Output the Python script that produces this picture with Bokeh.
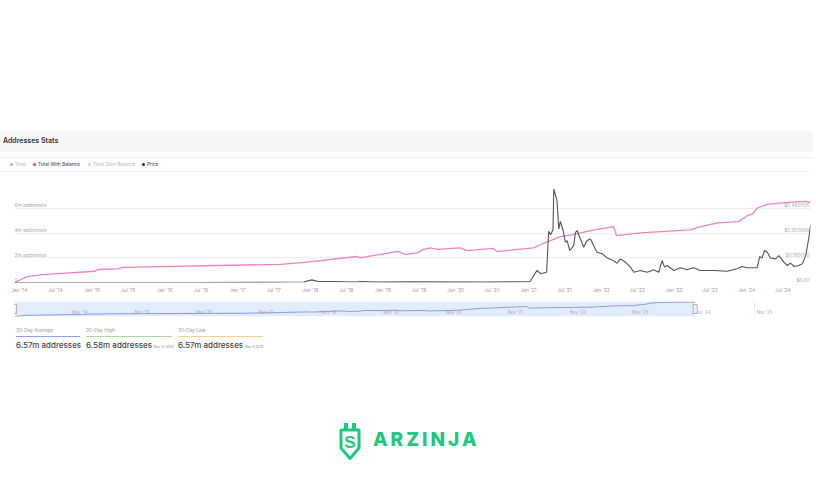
import pandas as pd
from bokeh.plotting import figure
from bokeh.models import Range1d, FixedTicker, MonthsTicker, DatetimeTickFormatter, Div
from bokeh.layouts import column
from bokeh.core.properties import value
from bokeh.embed import file_html
from bokeh.resources import INLINE

# ---------------- data ----------------
balance_dates = ["2013-12-08", "2013-12-12", "2014-02-08", "2014-05-01", "2015-01-17", "2015-02-01",
                 "2015-05-12", "2015-06-06", "2017-08-04", "2017-12-16", "2018-08-23", "2018-09-09",
                 "2019-03-18", "2019-04-22", "2019-06-21", "2019-07-23", "2019-08-27", "2019-09-29",
                 "2020-01-24", "2020-02-27", "2020-07-08", "2020-07-27", "2021-01-26", "2021-03-17",
                 "2021-06-10", "2021-08-14", "2021-11-08", "2022-03-04", "2022-03-19", "2022-07-17",
                 "2022-12-30", "2023-03-26", "2023-04-30", "2023-08-08", "2023-11-21", "2024-01-05",
                 "2024-01-31", "2024-02-24", "2024-04-15", "2024-07-25", "2024-10-23", "2024-11-07",
                 "2024-11-17"]
balance_millions = [0.00, 0.02, 0.48, 0.64, 0.91, 1.05,
                    1.10, 1.23, 1.47, 1.64, 2.10, 1.99,
                    2.52, 2.26, 2.39, 2.68, 2.80, 2.68,
                    2.80, 2.58, 2.76, 2.50, 2.80, 3.17,
                    3.71, 3.87, 4.19, 4.51, 3.79, 4.01,
                    4.17, 4.25, 4.46, 4.81, 4.92, 5.40,
                    5.54, 6.02, 6.31, 6.47, 6.55, 6.47,
                    6.57]

price_dates = ["2013-12-08", "2014-06-01", "2015-06-01", "2016-06-01", "2017-05-01", "2017-08-01",
               "2017-12-01", "2018-01-08", "2018-02-10", "2018-05-01", "2018-08-15", "2018-09-15",
               "2018-12-01", "2019-06-01", "2020-06-01", "2020-12-31", "2021-01-10", "2021-02-12",
               "2021-03-04", "2021-04-02", "2021-04-12", "2021-04-22", "2021-05-04", "2021-05-08",
               "2021-05-24", "2021-06-02", "2021-06-10", "2021-06-24", "2021-07-05", "2021-07-14",
               "2021-07-27", "2021-08-16", "2021-08-25", "2021-09-02", "2021-09-19", "2021-10-05",
               "2021-10-22", "2021-11-08", "2021-11-24", "2021-12-11", "2022-01-06", "2022-01-31",
               "2022-02-25", "2022-03-22", "2022-04-08", "2022-05-03", "2022-05-28", "2022-06-14",
               "2022-07-17", "2022-08-20", "2022-09-22", "2022-10-17", "2022-11-03", "2022-11-15",
               "2022-11-28", "2023-01-01", "2023-02-03", "2023-03-08", "2023-04-10", "2023-05-14",
               "2023-07-19", "2023-09-25", "2023-11-14", "2023-12-09", "2024-01-04", "2024-02-23",
               "2024-03-07", "2024-03-19", "2024-03-31", "2024-04-14", "2024-04-30", "2024-05-25",
               "2024-06-11", "2024-07-06", "2024-07-23", "2024-08-09", "2024-08-26", "2024-09-20",
               "2024-10-07", "2024-10-24", "2024-11-09", "2024-11-17"]
price_usd = [0.0004, 0.0004, 0.0002, 0.0003, 0.0006, 0.0015,
             0.003, 0.016, 0.006, 0.006, 0.003, 0.006,
             0.002, 0.004, 0.0025, 0.005, 0.008, 0.073,
             0.053, 0.062, 0.310, 0.290, 0.320, 0.567,
             0.496, 0.325, 0.371, 0.315, 0.244, 0.254,
             0.194, 0.224, 0.304, 0.315, 0.264, 0.214,
             0.254, 0.264, 0.224, 0.183, 0.174, 0.149,
             0.137, 0.117, 0.143, 0.123, 0.093, 0.062,
             0.073, 0.062, 0.077, 0.062, 0.133, 0.093,
             0.103, 0.073, 0.089, 0.077, 0.089, 0.073,
             0.073, 0.068, 0.083, 0.097, 0.089, 0.089,
             0.157, 0.149, 0.194, 0.183, 0.149, 0.143,
             0.163, 0.123, 0.103, 0.117, 0.097, 0.103,
             0.113, 0.163, 0.274, 0.345]

left_ticks = [0, 2, 4, 6, 8]
left_labels = ["0", "2m addresses", "4m addresses", "6m addresses", ""]
right_ticks = [0, 0.15, 0.30, 0.45, 0.60]
right_labels = ["$0.00", "$0.150000", "$0.300000", "$0.450000", "$0.600000"]

nav_tick_dates = ["2014-11-01", "2015-11-01", "2016-11-01", "2017-11-01", "2018-11-01", "2019-11-01",
                  "2020-11-01", "2021-11-01", "2022-11-01", "2023-11-01", "2024-11-01", "2025-11-01"]
nav_end_date = "2026-09-25"

legend_names = ["Total", "Total With Balance", "Total Zero Balance", "Price"]
legend_colors = ["#8e9ee6", "#e8348c", "#f6bd8f", "#222222"]
legend_active = [False, True, False, True]

stat_titles = ["30-Day Average", "30-Day High", "30-Day Low"]
stat_values = ["6.57m addresses", "6.58m addresses", "6.57m addresses"]
stat_dates = ["", "Nov 12 2024", "Nov 9 2024"]
stat_colors = ["#8aa3ea", "#a9dca0", "#f5cd95"]

FONT = "Inter"
W = 816
bd = pd.to_datetime(balance_dates)
pdts = pd.to_datetime(price_dates)
x_start, x_end = bd[0], bd[-1]

# ---------------- title & legend ----------------
spacer = Div(text="", width=W, height=130, margin=0)

title = Div(width=W, height=24, margin=0, text=(
    f'<div style="position:relative;width:{W}px;height:24px;">'
    '<div style="position:absolute;left:0px;top:1px;width:813px;height:21px;background:#f6f6f7;"></div>'
    f'<div style="position:absolute;left:3px;top:6px;font-family:{FONT};font-size:7px;font-weight:600;'
    'color:#333;line-height:10px;white-space:nowrap;">Addresses Stats</div></div>'))

leg_x = [10, 33, 88, 142]
items = ""
for nm, col, act, lx in zip(legend_names, legend_colors, legend_active, leg_x):
    tc = "#333" if act else "#b8b8b8"
    items += (f'<div style="position:absolute;left:{lx}px;top:7px;white-space:nowrap;line-height:6px;'
              f'font-family:{FONT};font-size:4.8px;color:{tc};">'
              f'<span style="display:inline-block;width:3px;height:3px;border-radius:50%;background:{col};'
              f'margin-right:2px;vertical-align:middle;opacity:{1 if act else 0.8};"></span>{nm}</div>')
legend = Div(width=W, height=22, margin=0, text=(
    f'<div style="position:relative;width:{W}px;height:22px;">'
    '<div style="position:absolute;left:0px;top:3px;width:813px;border-top:1px solid #f0f0f0;"></div>'
    '<div style="position:absolute;left:0px;top:17px;width:813px;border-top:1px solid #f3f3f3;"></div>'
    + items + '</div>'))

# ---------------- main chart ----------------
p = figure(width=W, height=122, x_axis_type="datetime",
           x_range=Range1d(x_start, x_end), y_range=Range1d(0, 8),
           output_backend="svg", toolbar_location=None,
           min_border_left=14, min_border_right=6, min_border_top=7, min_border_bottom=16,
           y_axis_location=None)
p.extra_y_ranges = {"price": Range1d(0, 0.6)}
p.outline_line_color = None
p.background_fill_color = "white"
p.border_fill_color = "white"
p.xgrid.grid_line_color = None
p.ygrid.ticker = FixedTicker(ticks=left_ticks)
p.ygrid.grid_line_color = "#ededed"
p.ygrid.grid_line_width = 1

p.xaxis.ticker = MonthsTicker(months=[0, 6])
p.xaxis.formatter = DatetimeTickFormatter(months="%b '%y", years="%b '%y", days="%b '%y")
p.xaxis.axis_line_color = None
p.xaxis.major_tick_line_color = None
p.xaxis.minor_tick_line_color = None
p.xaxis.major_tick_out = 0
p.xaxis.minor_tick_out = 0
p.xaxis.major_label_standoff = 4
p.xaxis.major_label_text_font_size = "4.8px"
p.xaxis.major_label_text_color = "#9a9a9a"
p.xaxis.major_label_text_font = FONT

p.line(bd, balance_millions, line_color="#ec84bf", line_width=1.3)
p.line(pdts, price_usd, line_color="#555555", line_width=1.1, y_range_name="price")

p.text(x=[x_start] * len(left_ticks), y=left_ticks, text=left_labels,
       text_font=value(FONT), text_font_size="4.8px", text_color="#a8a8a8",
       text_align="left", text_baseline="middle", y_offset=-3)
p.text(x=[x_end] * len(right_ticks), y=right_ticks, text=right_labels,
       text_font=value(FONT), text_font_size="4.8px", text_color="#a8a8a8",
       text_align="right", text_baseline="middle", y_offset=-3, x_offset=-1,
       y_range_name="price")

# ---------------- navigator ----------------
nav_ticks = pd.to_datetime(nav_tick_dates)
nav_labels = [d.strftime("%b '%y") for d in nav_ticks]
nav_top = 6.8
n = figure(width=W, height=20, x_axis_type="datetime",
           x_range=Range1d(x_start, pd.Timestamp(nav_end_date)), y_range=Range1d(0, nav_top),
           output_backend="svg", toolbar_location=None,
           min_border_left=14, min_border_right=6, min_border_top=3, min_border_bottom=2,
           x_axis_location=None, y_axis_location=None)
n.outline_line_color = None
n.border_fill_color = "white"
n.ygrid.grid_line_color = None
n.xgrid.ticker = FixedTicker(ticks=[t.value / 1e6 for t in nav_ticks])
n.xgrid.grid_line_color = "#ececec"
n.quad(left=[x_start], right=[x_end], bottom=[0], top=[nav_top],
       fill_color="#dfeafb", fill_alpha=0.9, line_color=None)
n.line(bd, balance_millions, line_color="#8b9be2", line_width=1)
n.text(x=nav_ticks, y=[0] * len(nav_ticks), text=nav_labels,
       text_font=value(FONT), text_font_size="4.3px", text_color="#a8a8a8",
       text_align="left", text_baseline="middle", x_offset=2, y_offset=-4)
n.rect(x=[x_start, x_end], y=[nav_top / 2] * 2, width=4, height=9,
       width_units="screen", height_units="screen",
       fill_color="#f2f2f2", line_color="#999999", line_width=0.7)

# ---------------- stats ----------------
stat_x = [16, 86, 178]
stat_w = [64, 86, 85]
st = ""
for t, v, d, c, sx, sw in zip(stat_titles, stat_values, stat_dates, stat_colors, stat_x, stat_w):
    st += (f'<div style="position:absolute;left:{sx}px;top:8px;font-family:{FONT};font-size:4.8px;'
           f'color:#999;line-height:8px;white-space:nowrap;">{t}</div>'
           f'<div style="position:absolute;left:{sx}px;top:18px;width:{sw}px;height:1px;background:{c};"></div>'
           f'<div style="position:absolute;left:{sx}px;top:21px;font-family:{FONT};font-size:8px;'
           f'font-weight:500;color:#444;line-height:12px;white-space:nowrap;">{v}'
           f'<span style="font-size:3.3px;color:#888;font-weight:400;margin-left:2px;">{d}</span></div>')
stats = Div(width=W, height=40, margin=0, text=(
    f'<div style="position:relative;width:{W}px;height:40px;">' + st + '</div>'))

# ---------------- brand ----------------
G = "#20c77e"
logo = Div(width=W, height=128, margin=0, text=(
    f'<div style="position:relative;width:{W}px;height:128px;">'
    '<svg style="position:absolute;left:338px;top:65px;" width="24" height="38" viewBox="0 0 24 38">'
    f'<rect x="6" y="0" width="4" height="6" fill="{G}"/>'
    f'<rect x="14" y="0" width="4" height="6" fill="{G}"/>'
    f'<path d="M3 7 H21 V25 L12 35.5 L3 25 Z" fill="none" stroke="{G}" stroke-width="3" stroke-linejoin="round"/>'
    f'<text x="12" y="25" text-anchor="middle" font-family="{FONT}" font-weight="900" font-size="17" fill="{G}">S</text>'
    '</svg>'
    f'<div style="position:absolute;left:373px;top:72px;font-family:{FONT};font-weight:800;font-size:19px;'
    f'letter-spacing:3px;color:{G};line-height:19px;white-space:nowrap;">ARZINJA</div>'
    '</div>'))

layout = column(spacer, title, legend, p, n, stats, logo, spacing=0, margin=0)
open("out.html", "w").write(file_html(layout, INLINE))
